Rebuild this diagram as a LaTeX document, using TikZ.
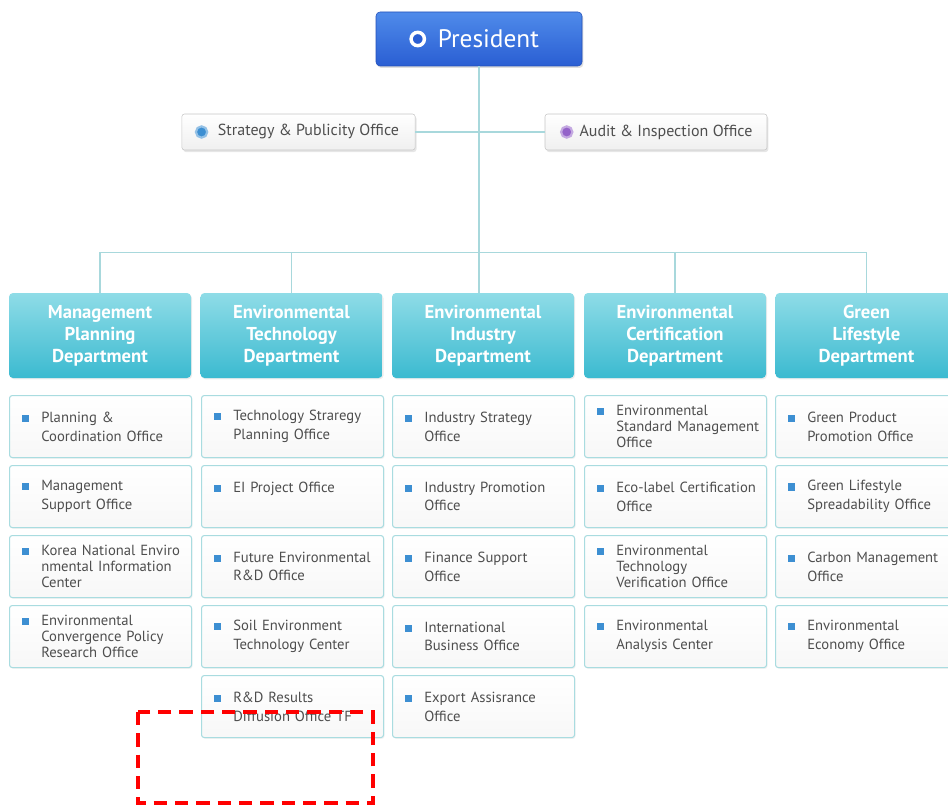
\documentclass[tikz,border=0pt]{standalone}
\usepackage{fontspec}
\setmainfont{PT Sans}
\usetikzlibrary{positioning,shadows}

\definecolor{prestop}{HTML}{4F8BEA}
\definecolor{presbot}{HTML}{2A5ED3}
\definecolor{presline}{HTML}{2450B8}
\definecolor{depttop}{HTML}{8FDCE7}
\definecolor{deptbot}{HTML}{3BBAD0}
\definecolor{boxline}{HTML}{A9DCE0}
\definecolor{linkcol}{HTML}{A8D8DC}
\definecolor{greytxt}{HTML}{4E4E4E}
\definecolor{dotblue}{HTML}{3D8FD2}
\definecolor{dotpurple}{HTML}{9463C9}

\newcommand{\bul}{\llap{\textcolor{dotblue}{\rule[0.3pt]{5.5pt}{5.5pt}}\hspace{9pt}}}

\begin{document}
\begin{tikzpicture}[x=0.75pt,y=-0.75pt]
		\tikzstyle{pres} = [rounded corners=3pt,draw=presline,top color=prestop,bottom color=presbot,
			minimum width=154.5pt,minimum height=40.5pt,text=white,font=\fontsize{19}{21}\selectfont,
			drop shadow={opacity=0.25,shadow xshift=1pt,shadow yshift=-1.5pt}];
		\tikzstyle{staff} = [rounded corners=2pt,draw=gray!45,top color=white,bottom color=gray!12,
			minimum height=27pt,text=greytxt,font=\fontsize{12}{14}\selectfont,
			drop shadow={opacity=0.2,shadow xshift=1pt,shadow yshift=-1.5pt}];
		\tikzstyle{dept} = [rounded corners=3pt,top color=depttop,bottom color=deptbot,
			minimum width=136.5pt,minimum height=63.75pt,text=white,align=center,
			font=\fontsize{14}{16.5}\selectfont\bfseries,
			drop shadow={opacity=0.15,shadow xshift=0.8pt,shadow yshift=-1pt}];
		\tikzstyle{office} = [rounded corners=2pt,draw=boxline,line width=0.8pt,top color=white,bottom color=gray!6,
			minimum width=136.5pt,minimum height=46.5pt,anchor=north west,
			drop shadow={opacity=0.1,shadow xshift=0.8pt,shadow yshift=-1pt}];
		\tikzstyle{otext} = [anchor=west,align=left,text width=118pt,inner sep=0pt,text=greytxt,
			font=\fontsize{11}{14}\selectfont];
		\tikzstyle{link} = [linkcol,line width=0.8pt];
		
		\useasboundingbox (0,0) rectangle (948,806);
		\clip (0,0) rectangle (948,806);
		
		% top of the chart
		\node[pres] (pres) at (479,39) {\hspace*{14pt}President};
		\node[circle,draw=white,line width=2.6pt,fill=presbot,minimum size=10pt,inner sep=0pt]
			(presdot) at ([xshift=31.5pt]pres.west) {};
		
		\node[staff,minimum width=175pt] (sp) at (298.5,132) {\hspace*{15pt}Strategy \& Publicity Office};
		\node[staff,minimum width=166.5pt] (ai) at (656,132) {\hspace*{15pt}Audit \& Inspection Office};
		\node[circle,draw=dotblue!55,line width=1.6pt,fill=dotblue,minimum size=8.5pt,inner sep=0pt]
			(spdot) at ([xshift=15pt]sp.west) {};
		\node[circle,draw=dotpurple!55,line width=1.6pt,fill=dotpurple,minimum size=8.5pt,inner sep=0pt]
			(aidot) at ([xshift=16.5pt]ai.west) {};
		
		% departments
		\foreach \x/\n/\t in {100/mpd/{Management\\Planning\\Department},
			291.5/etd/{Environmental\\Technology\\Department},
			483/eid/{Environmental\\Industry\\Department},
			675/ecd/{Environmental\\Certification\\Department},
			866.5/gld/{Green\\Lifestyle\\Department}}{
			\node[dept] (\n) at (\x,335.5) {\t};
		}
		
		\draw[link] (pres.south) -- (pres.south |- eid.north);
		\draw[link] (sp.east) -- (ai.west);
		\draw[link] (mpd.north) -- ++(0,-40) -| (gld.north);
		\foreach \n in {etd,ecd}{
			\draw[link] (\n.north) -- ++(0,-40);
		}
		
		% offices
		\foreach \x/\y/\n/\t in {
			9/395/mp1/{Planning \&\\Coordination Office},
			9/465/mp2/{Management\\Support Office},
			9/535/mp3/{Korea National Enviro\\[-2pt]nmental Information\\[-2pt]Center},
			9/605/mp4/{Environmental\\[-2pt]Convergence Policy\\[-2pt]Research Office},
			201/395/et1/{Technology Straregy\\Planning Office},
			201/465/et2/{EI Project Office\\~},
			201/535/et3/{Future Environmental\\R\&D Office},
			201/605/et4/{Soil Environment\\Technology Center},
			201/675/et5/{R\&D Results\\Diffusion Office TF},
			392/395/ei1/{Industry Strategy\\Office},
			392/465/ei2/{Industry Promotion\\Office},
			392/535/ei3/{Finance Support\\Office},
			392/605/ei4/{International\\Business Office},
			392/675/ei5/{Export Assisrance\\Office},
			584/395/ec1/{Environmental\\[-2pt]Standard Management\\[-2pt]Office},
			584/465/ec2/{Eco-label Certification\\Office},
			584/535/ec3/{Environmental\\[-2pt]Technology\\[-2pt]Verification Office},
			584/605/ec4/{Environmental\\Analysis Center},
			775/395/gl1/{Green Product\\Promotion Office},
			775/465/gl2/{Green Lifestyle\\Spreadability Office},
			775/535/gl3/{Carbon Management\\Office},
			775/605/gl4/{Environmental\\Economy Office}}{
			\node[office] (\n) at (\x,\y) {};
			\node[otext] (\n t) at ([xshift=24pt]\n.west) {\bul\t};
		}
		
		\draw[red,line width=3pt,dash pattern=on 10pt off 6pt] (138,712) rectangle (373,803);
		
	\end{tikzpicture}
\end{document}
